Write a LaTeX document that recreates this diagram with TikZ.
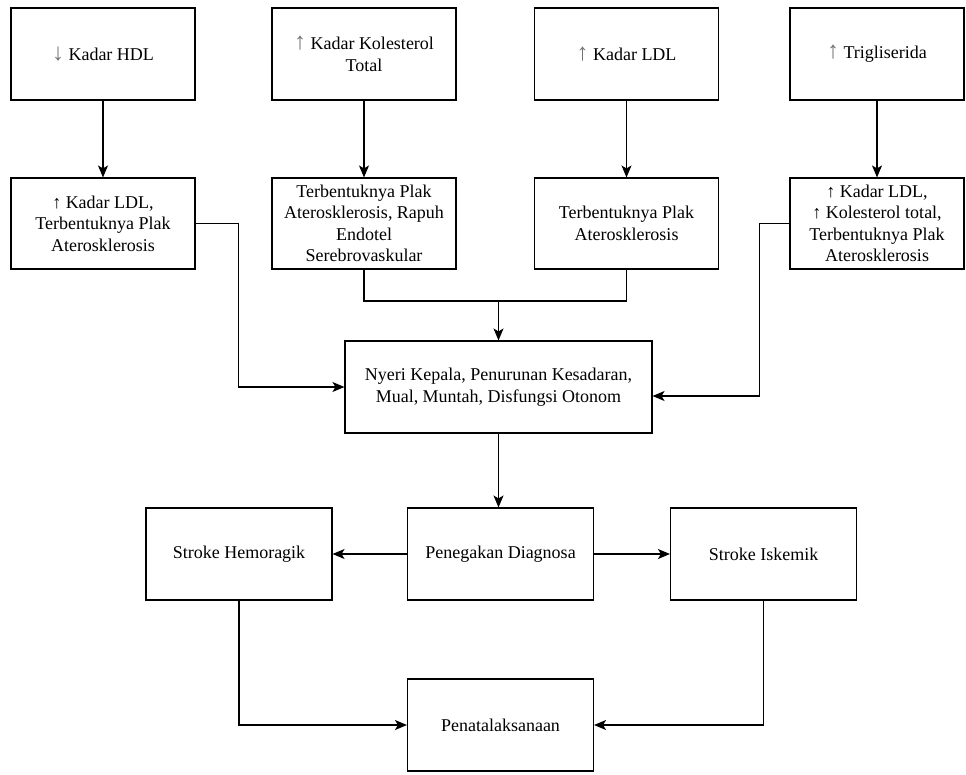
\documentclass[tikz,border=0pt]{standalone}
\usepackage{fontspec}
\setmainfont{LiberationSerif}[Extension=.ttf, UprightFont=*-Regular, BoldFont=*-Bold]
\usetikzlibrary{arrows.meta, positioning, calc}
\tikzset{
  box/.style = {
    draw, line width=1.1pt, minimum width=184pt, minimum height=92pt,
    align=center, inner sep=2pt, font=\fontsize{18}{21.5}\selectfont
  },
  arr/.style = {-{Stealth[length=12pt, width=10pt, inset=3pt]}, line width=1.1pt},
  link/.style = {line width=1.1pt}
}
\newcommand{\upbig}{{\color{black!55}\fontsize{24}{20}\selectfont ↑}}
\newcommand{\downbig}{{\color{black!55}\fontsize{24}{20}\selectfont ↓}}

\begin{document}
\begin{tikzpicture}[x=1pt, y=-1pt]

  \useasboundingbox (0,0) rectangle (966,774);

  % Lipid profile
  \node[box] (hdl) at (103,54) {\downbig\ Kadar HDL};
  \node[box] (kol) at (364,54) {\upbig\ Kadar Kolesterol\\Total};
  \node[box] (ldl) at (626.5,54) {\upbig\ Kadar LDL};
  \node[box, minimum width=174pt] (tg) at (877,54) {\upbig\ Trigliserida};

  % Effects
  \node[box, minimum height=91pt] (efhdl) at (103,223.5) {↑ Kadar LDL,\\Terbentuknya Plak\\Aterosklerosis};
  \node[box, minimum height=91pt] (efkol) at (364,223.5) {Terbentuknya Plak\\Aterosklerosis, Rapuh\\Endotel\\Serebrovaskular};
  \node[box, minimum height=91pt] (efldl) at (626.5,223.5) {Terbentuknya Plak\\Aterosklerosis};
  \node[box, minimum height=91pt, minimum width=174pt] (eftg) at (877,223.5) {↑ Kadar LDL,\\↑ Kolesterol total,\\Terbentuknya Plak\\Aterosklerosis};

  % Symptoms
  \node[box, minimum width=307pt] (gejala) at (498.5,387) {Nyeri Kepala, Penurunan Kesadaran,\\Mual, Muntah, Disfungsi Otonom};

  % Diagnosis
  \node[box, minimum width=186pt] (diag) at (500.5,554) {Penegakan Diagnosa};
  \node[box, minimum width=186pt] (hemo) at (239,554) {Stroke Hemoragik};
  \node[box, minimum width=186pt] (iske) at (763.5,554) {Stroke Iskemik};
  \node[box, minimum width=186pt] (tata) at (500.5,725) {Penatalaksanaan};

  % Arrows
  \draw[arr] (hdl) -- (efhdl);
  \draw[arr] (kol) -- (efkol);
  \draw[arr] (ldl) -- (efldl);
  \draw[arr] (tg) -- (eftg);

  \coordinate (join) at (498.5,301);
  \draw[link] (efkol.south) |- (join) -| (efldl.south);
  \draw[arr] (join) -- (gejala.north);
  \draw[arr] (efhdl.east) -- ++(43,0) |- (gejala.west);
  \draw[arr] (eftg.west) -- ++(-30,0) |- ([yshift=-9pt]gejala.east);

  \draw[arr] (gejala.south) -- (gejala.south |- diag.north);
  \draw[arr] (diag) -- (hemo);
  \draw[arr] (diag) -- (iske);
  \draw[arr] (hemo.south) |- (tata.west);
  \draw[arr] (iske.south) |- (tata.east);

\end{tikzpicture}
\end{document}
